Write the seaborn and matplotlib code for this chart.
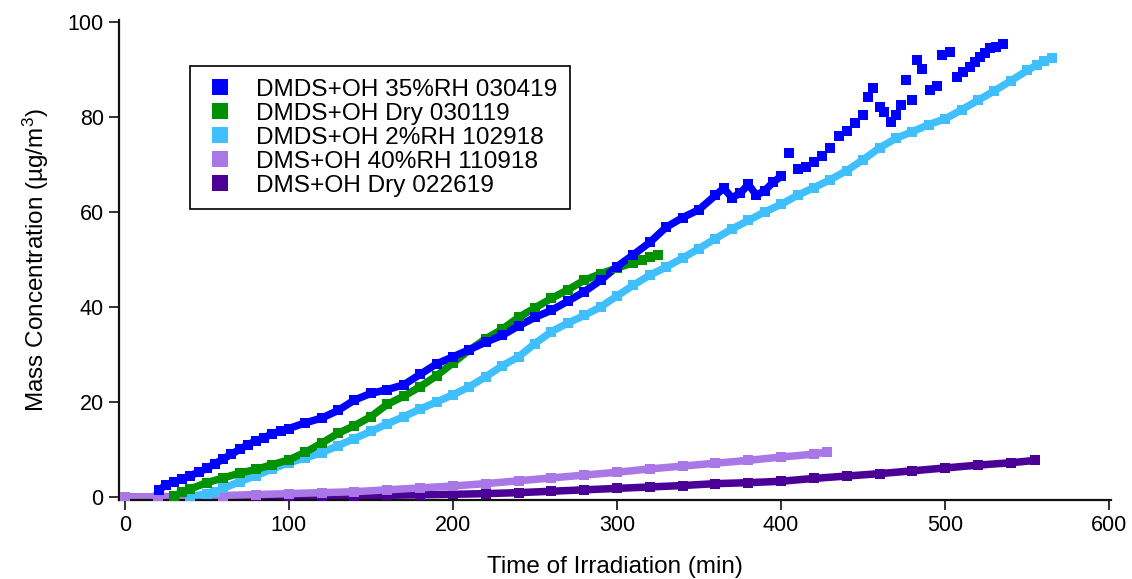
import numpy as np
import pandas as pd
import matplotlib
matplotlib.use("Agg")
import matplotlib.pyplot as plt
from matplotlib.lines import Line2D
import seaborn as sns

# ---------------- data ----------------
names = ["DMDS+OH 35%RH 030419", "DMDS+OH Dry 030119", "DMDS+OH 2%RH 102918",
         "DMS+OH 40%RH 110918", "DMS+OH Dry 022619"]
colors = ["#0000FF", "#009200", "#40BFFF", "#AA77E6", "#4B0096"]

t_dmds35 = [21, 25, 30, 35, 40, 45, 50, 55, 60, 65, 70, 75, 80, 85, 90, 95, 100, 110, 120, 130,
            140, 150, 160, 170, 180, 190, 200, 210, 220, 230, 240, 250, 260, 270, 280, 290, 300,
            310, 320, 330, 340, 350, 360, 365, 370, 375, 380, 385, 390, 395, 400, 405, 410, 415,
            420, 425, 430, 435, 440, 445, 450, 453, 456, 460, 463, 467, 470, 473, 476, 480, 483,
            486, 491, 495, 498, 503, 507, 511, 515, 518, 521, 524, 527, 531, 535]
m_dmds35 = [1.5, 2.5, 3.2, 3.8, 4.5, 5.2, 6.0, 7.0, 8.0, 9.0, 10.0, 11.0, 11.8, 12.5, 13.3, 13.9,
            14.4, 15.6, 16.6, 18.2, 20.4, 21.8, 22.6, 23.6, 25.8, 28.0, 29.5, 31.0, 32.6, 34.0,
            36.0, 37.8, 39.3, 41.2, 43.2, 45.6, 48.5, 51.0, 53.6, 56.8, 58.8, 60.5, 63.5, 65.0,
            63.0, 63.9, 65.8, 63.5, 64.5, 66.2, 67.5, 72.4, 69.0, 69.5, 70.5, 71.8, 73.5, 76.0,
            77.0, 78.7, 80.5, 84.2, 86.0, 82.0, 81.0, 79.0, 80.5, 82.5, 87.8, 83.6, 92.0, 90.0,
            85.7, 86.5, 93.0, 93.7, 88.4, 89.5, 90.5, 91.5, 92.6, 93.5, 94.5, 94.8, 95.4]

t_dmds_dry = [30, 35, 40, 50, 60, 70, 80, 90, 100, 110, 120, 130, 140, 150, 160, 170, 180, 190,
              200, 210, 220, 230, 240, 250, 260, 270, 280, 290, 300, 310, 315, 320, 325]
m_dmds_dry = [0.2, 1.0, 1.7, 3.0, 4.0, 5.0, 5.8, 6.8, 7.8, 9.4, 11.3, 13.4, 15.0, 16.9, 19.5, 21.2,
              23.2, 25.5, 28.2, 30.9, 33.3, 35.3, 37.8, 39.8, 41.8, 43.6, 45.6, 47.0, 48.2, 49.3,
              49.8, 50.5, 51.0]

t_dmds2 = [40, 50, 55, 60, 70, 80, 90, 100, 110, 120, 130, 140, 150, 160, 170, 180, 190, 200, 210,
           220, 230, 240, 250, 260, 270, 280, 290, 300, 310, 320, 330, 340, 350, 360, 370, 380, 390,
           400, 410, 420, 430, 440, 450, 460, 470, 480, 490, 500, 510, 520, 530, 540, 550, 556,
           560, 565]
m_dmds2 = [0.2, 0.6, 1.0, 1.8, 3.2, 4.5, 5.9, 7.2, 8.2, 9.3, 10.8, 12.3, 13.8, 15.4, 16.9, 18.5,
           20.0, 21.5, 23.2, 25.3, 27.6, 29.5, 32.3, 34.8, 36.6, 38.2, 40.0, 42.3, 44.6, 46.7, 48.4,
           50.3, 52.3, 54.4, 56.4, 58.2, 60.0, 61.6, 63.5, 65.1, 66.8, 68.7, 71.0, 73.5, 75.5, 76.9,
           78.4, 79.6, 81.5, 83.5, 85.5, 87.6, 89.8, 91.0, 91.8, 92.4]

t_dms40 = [0, 20, 40, 60, 80, 100, 120, 140, 160, 180, 200, 220, 240, 260, 280, 300, 320, 340,
           360, 380, 400, 420, 428]
m_dms40 = [0.0, 0.05, 0.15, 0.3, 0.5, 0.7, 0.9, 1.1, 1.5, 1.9, 2.3, 2.8, 3.4, 4.0, 4.6, 5.2, 5.9,
           6.5, 7.1, 7.7, 8.4, 9.0, 9.5]

t_dms_dry = [0, 20, 40, 60, 80, 100, 120, 140, 160, 180, 200, 220, 240, 260, 280, 300, 320, 340,
             360, 380, 400, 420, 440, 460, 480, 500, 520, 540, 555]
m_dms_dry = [0.0, 0.0, 0.0, 0.05, 0.1, 0.15, 0.2, 0.3, 0.35, 0.45, 0.55, 0.7, 0.9, 1.2, 1.5, 1.8,
             2.1, 2.4, 2.8, 3.0, 3.3, 3.9, 4.4, 4.9, 5.5, 6.1, 6.7, 7.2, 7.7]

series_t = [t_dmds35, t_dmds_dry, t_dmds2, t_dms40, t_dms_dry]
series_m = [m_dmds35, m_dmds_dry, m_dmds2, m_dms40, m_dms_dry]

df = pd.concat([pd.DataFrame({"t": t, "m": m, "run": n})
                for n, t, m in zip(names, series_t, series_m)], ignore_index=True)

# ---------------- style ----------------
sns.set_theme(style="ticks")
plt.rcParams['font.family'] = ['Liberation Sans', 'DejaVu Sans']
plt.rcParams['mathtext.fontset'] = 'custom'
plt.rcParams['mathtext.rm'] = 'Liberation Sans'
plt.rcParams['mathtext.it'] = 'Liberation Sans'
plt.rcParams['text.color'] = 'black'
plt.rcParams['axes.labelcolor'] = 'black'

fig = plt.figure(figsize=(11.32, 5.79), dpi=100)
ax = fig.add_axes([0.1051, 0.1364, 0.8763, 0.829])

# draw from bottom to top
for i in [4, 3, 2, 1, 0]:
    sub = df[df["run"] == names[i]]
    line_part = sub if i != 0 else sub[sub["t"] <= 400]
    sns.lineplot(data=line_part, x="t", y="m", color=colors[i], linewidth=5.4,
                 ax=ax, legend=False, sort=False, estimator=None, solid_capstyle='butt')
    sns.scatterplot(data=sub, x="t", y="m", color=colors[i], marker="s", s=42,
                    linewidth=0, ax=ax, legend=False, zorder=3)

ax.set_xlim(-3.5, 601)
ax.set_ylim(-0.65, 100.4)
ax.set_xticks([0, 100, 200, 300, 400, 500, 600])
ax.set_yticks([0, 20, 40, 60, 80, 100])

for s in ["top", "right"]:
    ax.spines[s].set_visible(False)
for s in ["left", "bottom"]:
    ax.spines[s].set_linewidth(1.6)
    ax.spines[s].set_color("#111111")
ax.tick_params(axis="both", direction="out", length=7, width=1.2, color="#111111",
               labelsize=15.5, labelcolor="black", pad=4)

ax.set_xlabel("Time of Irradiation (min)", fontsize=17.5, labelpad=14)
ax.set_ylabel(r"Mass Concentration (µg/m$^{3}$)", fontsize=17.5, labelpad=12)

handles = [Line2D([0], [0], marker="s", linestyle="none", markersize=11,
                  markerfacecolor=c, markeredgewidth=0) for c in colors]
leg = ax.legend(handles, names, loc="upper left", bbox_to_anchor=(0.0716, 0.9036),
                borderaxespad=0, fancybox=False, framealpha=1, edgecolor="black",
                fontsize=17.6, handlelength=1.42, handletextpad=0.8, labelspacing=0.08,
                borderpad=0.5)
leg.get_frame().set_linewidth(1.2)

fig.savefig("out.png", dpi=100)
